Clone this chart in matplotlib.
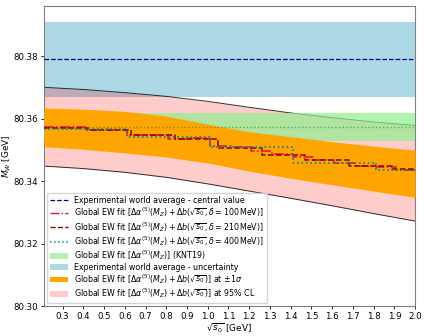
import numpy as np
import matplotlib
matplotlib.use("Agg")
import matplotlib.pyplot as plt
from matplotlib.lines import Line2D
from matplotlib.patches import Patch

# ---- data ----
exp_central = 80.379
exp_unc = 0.012

knt19_central = 80.3572
knt19_unc = 0.0045

x_nodes = [0.21, 0.4, 0.6, 0.8, 1.0, 1.2, 1.4, 1.6, 1.8, 2.0]
cl95_upper = [80.3700, 80.3693, 80.3683, 80.3671, 80.3655, 80.3636, 80.3618, 80.3603, 80.3589, 80.3578]
cl95_lower = [80.3448, 80.3440, 80.3428, 80.3412, 80.3391, 80.3368, 80.3345, 80.3321, 80.3296, 80.3272]
sig1_upper = [80.3634, 80.3630, 80.3623, 80.3608, 80.3582, 80.3558, 80.3542, 80.3526, 80.3512, 80.3499]
sig1_lower = [80.3510, 80.3502, 80.3490, 80.3477, 80.3458, 80.3432, 80.3409, 80.3388, 80.3368, 80.3348]

edges_100 = [0.21, 0.31, 0.41, 0.51, 0.61, 0.71, 0.81, 0.91, 1.01, 1.11, 1.21,
             1.31, 1.41, 1.51, 1.61, 1.71, 1.81, 1.91, 2.01]
vals_100 = [80.3572, 80.3572, 80.3563, 80.3562, 80.3549, 80.3546, 80.3534, 80.3538, 80.3512,
            80.3509, 80.3497, 80.3487, 80.3478, 80.3466, 80.3458, 80.3447, 80.3446, 80.3437]

edges_210 = [0.21, 0.42, 0.63, 0.84, 1.05, 1.26, 1.47, 1.68, 1.89, 2.10]
vals_210 = [80.3570, 80.3562, 80.3546, 80.3536, 80.3506, 80.3484, 80.3468, 80.3448, 80.3438]

edges_400 = [0.21, 0.61, 1.01, 1.41, 1.81, 2.21]
vals_400 = [80.3566, 80.3541, 80.3510, 80.3457, 80.3437]

xticks = [0.3, 0.4, 0.5, 0.6, 0.7, 0.8, 0.9, 1.0, 1.1, 1.2, 1.3, 1.4, 1.5, 1.6, 1.7, 1.8, 1.9, 2.0]
yticks = [80.30, 80.32, 80.34, 80.36, 80.38]

labels = {
    "exp_c": "Experimental world average - central value",
    "d100": r"Global EW fit [$\Delta\alpha^{(5)}(M_Z) + \Delta b(\sqrt{s_0}, \delta = 100\,\mathrm{MeV})$]",
    "d210": r"Global EW fit [$\Delta\alpha^{(5)}(M_Z) + \Delta b(\sqrt{s_0}, \delta = 210\,\mathrm{MeV})$]",
    "d400": r"Global EW fit [$\Delta\alpha^{(5)}(M_Z) + \Delta b(\sqrt{s_0}, \delta = 400\,\mathrm{MeV})$]",
    "knt": r"Global EW fit [$\Delta\alpha^{(5)}(M_Z)$] (KNT19)",
    "exp_u": "Experimental world average - uncertainty",
    "s1": r"Global EW fit [$\Delta\alpha^{(5)}(M_Z) + \Delta b(\sqrt{s_0})$] at $\pm1\sigma$",
    "cl95": r"Global EW fit [$\Delta\alpha^{(5)}(M_Z) + \Delta b(\sqrt{s_0})$] at 95% CL",
}

# ---- figure ----
fs = 6.0
lfs = 5.7
fig = plt.figure(figsize=(4.27, 3.36), dpi=100)
ax = fig.add_axes([0.103, 0.089, 0.869, 0.893])

xmin, xmax = 0.21, 2.0

c_blue = "lightblue"
c_green = "lightgreen"
c_orange = "orange"

ax.axhspan(exp_central - exp_unc, exp_central + exp_unc, color=c_blue, lw=0, zorder=1)
ax.fill_between(x_nodes, cl95_lower, cl95_upper, color="red", alpha=0.2, lw=0, zorder=2)
ax.plot(x_nodes, cl95_upper, color="black", lw=0.7, alpha=0.8, zorder=2.5)
ax.plot(x_nodes, cl95_lower, color="black", lw=0.7, alpha=0.8, zorder=2.5)
ax.axhspan(knt19_central - knt19_unc, knt19_central + knt19_unc, color=c_green, alpha=0.7, lw=0, zorder=3)
ax.fill_between(x_nodes, sig1_lower, sig1_upper, color=c_orange, lw=0, zorder=4)
ax.axhline(knt19_central, color="green", ls=":", lw=1.0, alpha=0.5, zorder=5)
ax.axhline(exp_central, color="darkblue", ls="--", lw=0.9, zorder=5)

ax.step(edges_100, vals_100 + [vals_100[-1]], where="post", color="crimson", ls="-.", lw=1.1, zorder=6)
ax.step(edges_210, vals_210 + [vals_210[-1]], where="post", color="darkred", ls="--", lw=1.1, zorder=6)
ax.step(edges_400, vals_400 + [vals_400[-1]], where="post", color="darkcyan", ls=":", lw=1.2, zorder=6)

ax.set_xlim(xmin, xmax)
ax.set_ylim(80.30, 80.396)
ax.set_xticks(xticks)
ax.set_xticklabels([f"{t:.1f}" for t in xticks])
ax.set_yticks(yticks)
ax.set_yticklabels([f"{t:.2f}" for t in yticks])
ax.tick_params(labelsize=fs + 0.2, length=2.5, width=0.6, pad=1.5)
for s in ax.spines.values():
    s.set_edgecolor("0.5")
    s.set_linewidth(0.8)

ax.set_xlabel(r"$\sqrt{s_0}$ [GeV]", fontsize=fs + 0.4, labelpad=0.5)
ax.set_ylabel(r"$M_W$ [GeV]", fontsize=fs + 0.4, labelpad=0.5)

handles = [
    Line2D([], [], color="darkblue", ls="--", lw=0.9),
    Line2D([], [], color="crimson", ls="-.", lw=1.0),
    Line2D([], [], color="darkred", ls="--", lw=1.0),
    Line2D([], [], color="darkcyan", ls=":", lw=1.1),
    Patch(facecolor=c_green, alpha=0.7, lw=0),
    Patch(facecolor=c_blue, lw=0),
    Patch(facecolor=c_orange, lw=0),
    Patch(facecolor="red", alpha=0.2, lw=0),
]
leg_labels = [labels[k] for k in ["exp_c", "d100", "d210", "d400", "knt", "exp_u", "s1", "cl95"]]
ax.legend(handles, leg_labels, loc="lower left", fontsize=lfs, frameon=True,
          borderaxespad=0.35, labelspacing=0.05, handlelength=2.3, handletextpad=0.8,
          borderpad=0.4)

fig.savefig("out.png", dpi=100)
